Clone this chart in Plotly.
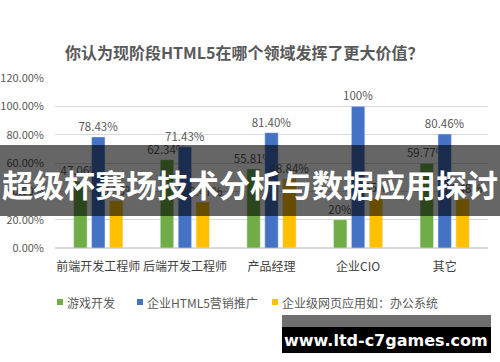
import plotly.graph_objects as go

categories = ["前端开发工程师", "后端开发工程师", "产品经理", "企业CIO", "其它"]
series_names = ["游戏开发", "企业HTML5营销推广", "企业级网页应用如：办公系统"]
game_dev = [0.4706, 0.6234, 0.5581, 0.20, 0.5977]
html5_marketing = [0.7843, 0.7143, 0.8140, 1.00, 0.8046]
web_apps = [0.3333, 0.3247, 0.4884, 0.35, 0.3448]
game_labels = ["47.06%", "62.34%", "55.81%", "20%", "59.77%"]
html5_labels = ["78.43%", "71.43%", "81.40%", "100%", "80.46%"]
web_labels = ["33.33%", "32.47%", "48.84%", "35%", "34.48%"]
y_ticks = [0, 0.2, 0.4, 0.6, 0.8, 1.0, 1.2]
y_tick_labels = ["0.00%", "20.00%", "40.00%", "60.00%", "80.00%", "100.00%", "120.00%"]

title_text = "你认为现阶段HTML5在哪个领域发挥了更大价值？"
banner_text = "超级杯赛场技术分析与数据应用探讨"
watermark_text = "www.ltd-c7games.com"

colors = ["#70AD47", "#4472C4", "#FFC000"]
CJK = "Noto Sans CJK SC"
W, H = 500, 362
L, R, T, B = 55, 12, 78, 114
PH = H - T - B
PW = W - L - R

def px(x):
    return (x - L) / PW

def py(y):
    return (H - B - y) / PH

fig = go.Figure()
for name, vals, labs, col in zip(series_names, [game_dev, html5_marketing, web_apps],
                                 [game_labels, html5_labels, web_labels], colors):
    fig.add_trace(go.Bar(
        x=categories, y=vals, name=name, marker_color=col,
        text=labs, textposition="outside", cliponaxis=False, constraintext="none",
        textfont=dict(size=11.5, color="#595959", family=CJK),
        showlegend=False,
    ))

fig.update_layout(
    width=W, height=H,
    margin=dict(l=L, r=R, t=T, b=B, autoexpand=False),
    paper_bgcolor="white", plot_bgcolor="white",
    barmode="group", bargap=0.38, bargroupgap=0.25,
    font=dict(family=CJK, color="#595959", size=12),
    showlegend=False,
    xaxis=dict(showline=False, ticks="", ticklabelstandoff=10,
               tickfont=dict(size=12, color="#404040")),
    yaxis=dict(range=[0, 1.2], tickvals=y_ticks, ticktext=y_tick_labels,
               gridcolor="#D9D9D9", gridwidth=1, zeroline=True, zerolinecolor="#D9D9D9",
               ticklabelstandoff=10, tickfont=dict(size=11, color="#595959")),
)

# manual legend
legend_pos = [57, 137, 272]
for name, col, x0 in zip(series_names, colors, legend_pos):
    fig.add_shape(type="rect", xref="paper", yref="paper",
                  x0=px(x0), x1=px(x0 + 6), y0=py(305), y1=py(299),
                  fillcolor=col, line_width=0)
    fig.add_annotation(text=name, xref="paper", yref="paper",
                       x=px(x0 + 8), y=py(302), xanchor="left", yanchor="middle",
                       showarrow=False, font=dict(size=12, color="#595959", family=CJK))

fig.add_annotation(text="<b>" + title_text + "</b>", xref="paper", yref="paper",
                   x=px(244), y=py(52), xanchor="center", yanchor="middle", showarrow=False,
                   font=dict(size=16, color="#595959", family=CJK))

# overlay banner
fig.add_shape(type="rect", xref="paper", yref="paper",
              x0=px(0), x1=px(500), y0=py(216), y1=py(145),
              fillcolor="rgba(0,0,0,0.6)", line_width=0, layer="above")
fig.add_annotation(text="<b>" + banner_text + "</b>", xref="paper", yref="paper",
                   x=px(250), y=py(183), xanchor="center", yanchor="middle", showarrow=False,
                   font=dict(size=31, color="white", family=CJK))

# watermark
fig.add_shape(type="rect", xref="paper", yref="paper",
              x0=px(282), x1=px(491), y0=py(327), y1=py(315),
              fillcolor="#6E6E6E", line_width=0, layer="above")
fig.add_shape(type="rect", xref="paper", yref="paper",
              x0=px(282), x1=px(491), y0=py(353), y1=py(327),
              fillcolor="black", line_width=0, layer="above")
fig.add_annotation(text="<b>" + watermark_text + "</b>", xref="paper", yref="paper",
                   x=px(386), y=py(340), xanchor="center", yanchor="middle", showarrow=False,
                   font=dict(size=16, color="white", family="DejaVu Sans"))

fig.write_html("out.html", config={"displayModeBar": False},
               post_script="document.body.style.margin='0';document.body.style.overflow='hidden';")
